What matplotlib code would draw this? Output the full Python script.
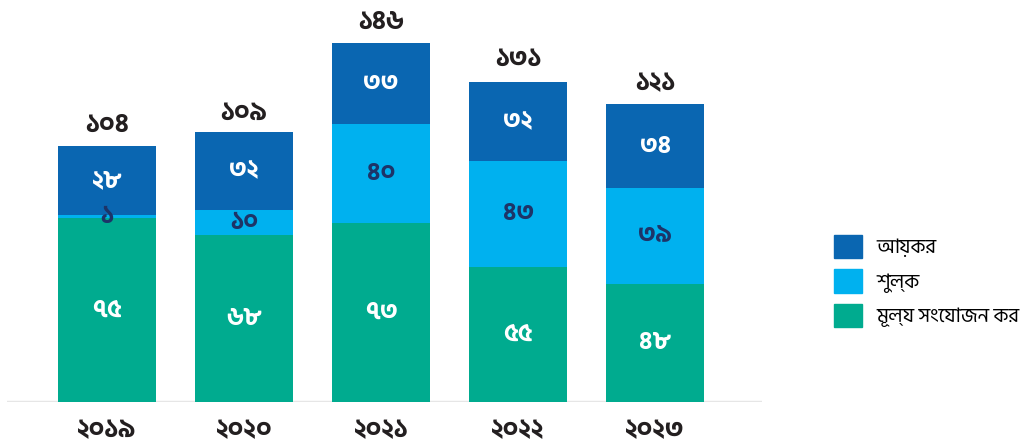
import matplotlib
matplotlib.use('Agg')
import matplotlib.pyplot as plt
from matplotlib import font_manager
from matplotlib.font_manager import FontProperties
from matplotlib.patches import Patch


def font_file(family, weight):
    for f in font_manager.fontManager.ttflist:
        if f.name == family and f.weight == weight and f.style == 'normal':
            return f.fname
    return None


bold_path = font_file('Hind Siliguri', 700)
reg_path = font_file('Hind Siliguri', 400)
fp_bold = FontProperties(fname=bold_path) if bold_path else FontProperties(family='DejaVu Sans', weight='bold')
fp_reg = FontProperties(fname=reg_path) if reg_path else FontProperties(family='DejaVu Sans')

# Data (billion taka)
years = ['২০১৯', '২০২০', '২০২১', '২০২২', '২০২৩']
vat = [75, 68, 73, 55, 48]          # মূল্য সংযোজন কর
duty = [1, 10, 40, 43, 39]          # শুল্ক
income_tax = [28, 32, 33, 32, 34]   # আয়কর
totals = [104, 109, 146, 131, 121]

vat_lbl = ['৭৫', '৬৮', '৭৩', '৫৫', '৪৮']
duty_lbl = ['১', '১০', '৪০', '৪৩', '৩৯']
tax_lbl = ['২৮', '৩২', '৩৩', '৩২', '৩৪']
total_lbl = ['১০৪', '১০৯', '১৪৬', '১৩১', '১২১']

# matplotlib does no Indic shaping, so the two-part vowel sign is written in visual order
legend_lbl = ['আয়কর', 'শুল্ক', 'মূল্য সংেযাজন কর']

c_tax = '#0a66b1'
c_duty = '#00b1ef'
c_vat = '#00ab8f'
navy = '#1d3468'
dark = '#231f20'

fig = plt.figure(figsize=(10.35, 4.43), dpi=100)
ax = fig.add_axes([7/1035, 41/443, 755/1035, 402/443])

x = list(range(len(years)))
w = 0.72
bot2 = [a + b for a, b in zip(vat, duty)]

ax.bar(x, vat, w, color=c_vat, zorder=3)
ax.bar(x, duty, w, bottom=vat, color=c_duty, zorder=3)
ax.bar(x, income_tax, w, bottom=bot2, color=c_tax, zorder=3)

for i in x:
    ax.text(i, vat[i] / 2, vat_lbl[i], ha='center', va='center',
            color='white', fontproperties=fp_bold, fontsize=18, zorder=4)
    ax.text(i, vat[i] + duty[i] / 2, duty_lbl[i], ha='center', va='center',
            color=navy, fontproperties=fp_bold, fontsize=18, zorder=4)
    ax.text(i, bot2[i] + income_tax[i] / 2, tax_lbl[i], ha='center', va='center',
            color='white', fontproperties=fp_bold, fontsize=18, zorder=4)
    ax.text(i, totals[i] + 8.5, total_lbl[i], ha='center', va='center',
            color=dark, fontproperties=fp_bold, fontsize=19, zorder=4)
    ax.text(i, -11.5, years[i], ha='center', va='center',
            color=dark, fontproperties=fp_bold, fontsize=19, clip_on=False)

ax.axhline(0, color='#e6e6e6', lw=2.5, zorder=2)
ax.set_xlim(-0.73, 4.78)
ax.set_ylim(0, 163.5)
ax.axis('off')

handles = [Patch(color=c_tax), Patch(color=c_duty), Patch(color=c_vat)]
leg_fp = fp_reg.copy()
leg_fp.set_size(14.5)
fig.legend(handles, legend_lbl, loc='upper left', bbox_to_anchor=(834/1035, 1 - 235/443),
           frameon=False, prop=leg_fp, handlelength=1.4, handleheight=1.4,
           handletextpad=0.7, labelspacing=0.55, borderpad=0, borderaxespad=0)

fig.savefig('out.png', dpi=100)
